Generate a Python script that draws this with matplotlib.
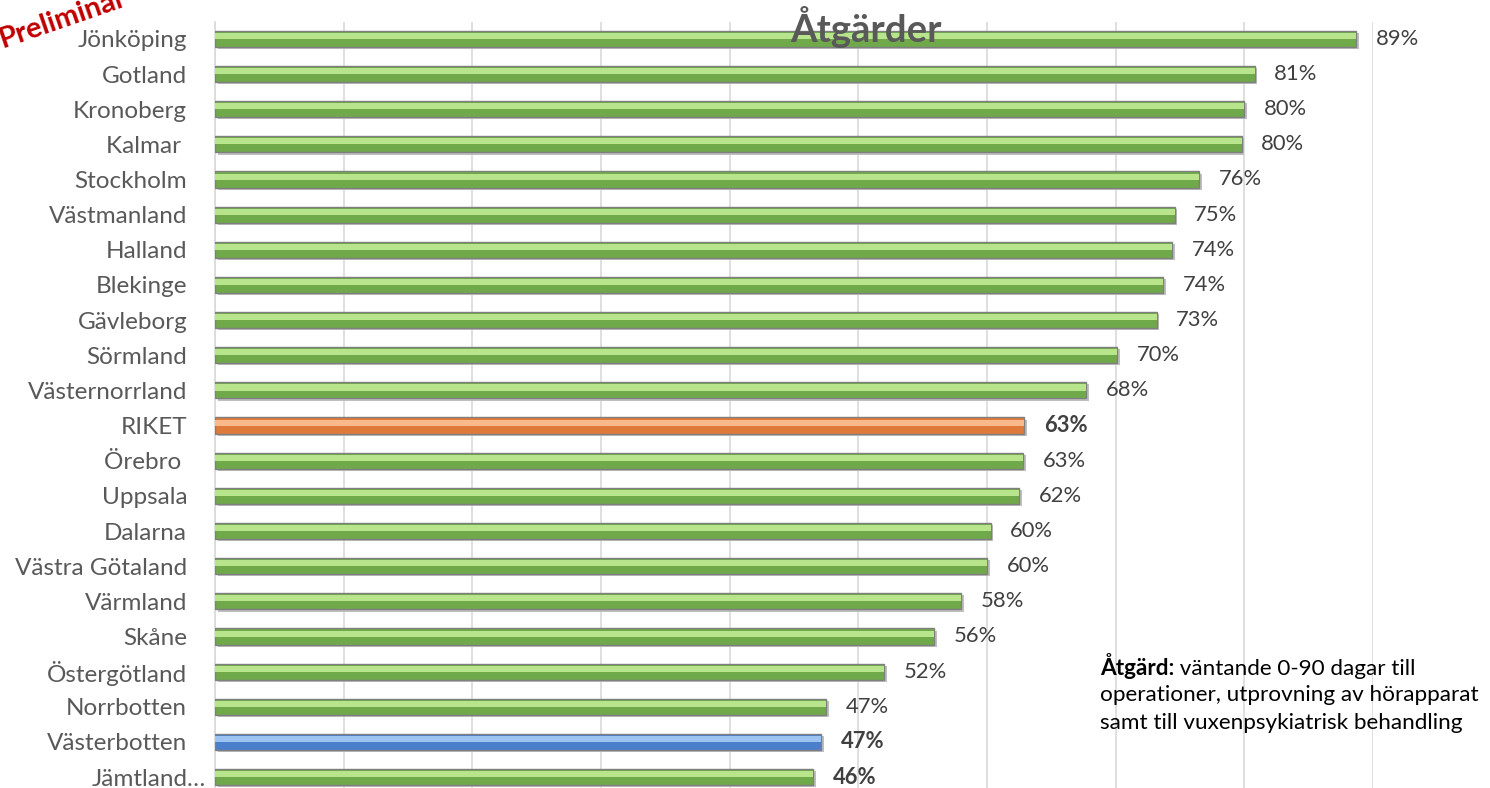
import numpy as np
import matplotlib.pyplot as plt
import matplotlib.transforms as mtransforms

plt.rcParams['font.family'] = ['Lato', 'DejaVu Sans']

regions = ['Jönköping', 'Gotland', 'Kronoberg', 'Kalmar ', 'Stockholm', 'Västmanland',
           'Halland', 'Blekinge', 'Gävleborg', 'Sörmland', 'Västernorrland', 'RIKET',
           'Örebro ', 'Uppsala', 'Dalarna', 'Västra Götaland', 'Värmland', 'Skåne',
           'Östergötland', 'Norrbotten', 'Västerbotten', 'Jämtland…']
values = [0.887, 0.808, 0.800, 0.798, 0.765, 0.746, 0.744, 0.737, 0.732, 0.701, 0.677,
          0.629, 0.628, 0.625, 0.603, 0.600, 0.580, 0.559, 0.520, 0.475, 0.471, 0.465]
labels = ['89%', '81%', '80%', '80%', '76%', '75%', '74%', '74%', '73%', '70%', '68%',
          '63%', '63%', '62%', '60%', '60%', '58%', '56%', '52%', '47%', '47%', '46%']
bold_rows = ['RIKET', 'Västerbotten', 'Jämtland…']

def bar_colors(name):
    # main, highlight
    if name == 'RIKET':
        return '#e07a3a', '#f9b98a'
    if name == 'Västerbotten':
        return '#4a7fcc', '#9cc3f2'
    return '#70a94a', '#b8e48c'

fig = plt.figure(figsize=(14.9, 7.88), dpi=100)
ax = fig.add_axes([215/1490, 0.0, (1373-215)/1490, 1 - 22/788])

y = np.arange(len(regions))
h = 0.46
for i, (name, v) in enumerate(zip(regions, values)):
    main, light = bar_colors(name)
    # shadow
    ax.barh(i + 0.06, v, height=h, left=0.002, color='#bfbfbf', zorder=2)
    ax.barh(i, v, height=h, color=main, edgecolor='#7f7f7f', linewidth=1.0, zorder=3)
    ax.barh(i - h*0.18, v, height=h*0.38, color=light, zorder=4, linewidth=0)
    ax.annotate(labels[i], (v, i), xytext=(14, 0), textcoords='offset points',
                va='center', ha='left', fontsize=15.8, color='#404040',
                fontweight='bold' if name in bold_rows else 'normal')

ax.set_xlim(0, 0.9)
ax.set_ylim(21.31, -0.48)
ax.set_xticks(np.arange(0, 0.91, 0.1))
ax.set_xticklabels([])
ax.tick_params(axis='x', length=0)
ax.tick_params(axis='y', length=0, pad=20)
ax.set_yticks(y)
ax.set_yticklabels(regions, fontsize=17.5, color='#595959')
# truncated last label sits right against the axis
last = ax.get_yticklabels()[-1]
last.set_transform(last.get_transform() + mtransforms.ScaledTranslation(19/100, 0, fig.dpi_scale_trans))
ax.grid(axis='x', color='#d9d9d9', linewidth=1.2, zorder=0)
ax.set_axisbelow(True)
for s in ['top', 'right', 'bottom']:
    ax.spines[s].set_visible(False)
ax.spines['left'].set_color('#d9d9d9')
ax.spines['left'].set_linewidth(1.2)

fig.text(866/1490, 1 - 27/788, 'Åtgärder', ha='center', va='center',
         fontsize=27.5, fontweight='bold', color='#595959', zorder=10)

fig.text(3/1490, 1 - 48/788, 'Preliminär', ha='left', va='baseline', rotation=19,
         rotation_mode='anchor', fontsize=21, fontweight='bold', color='#c00000')

t1 = fig.text(1100/1490, 1 - 679/788, 'Åtgärd:', ha='left', va='bottom',
              fontsize=16.2, fontweight='bold', color='black')
ax.annotate(' väntande 0-90 dagar till', xy=(1, 0), xycoords=t1, ha='left',
            va='bottom', fontsize=16.2, color='black')
fig.text(1100/1490, 1 - 695/788, 'operationer, utprovning av hörapparat', ha='left',
         va='center', fontsize=16.2, color='black')
fig.text(1100/1490, 1 - 723/788, 'samt till vuxenpsykiatrisk behandling', ha='left',
         va='center', fontsize=16.2, color='black')

fig.savefig('out.png', dpi=100)
